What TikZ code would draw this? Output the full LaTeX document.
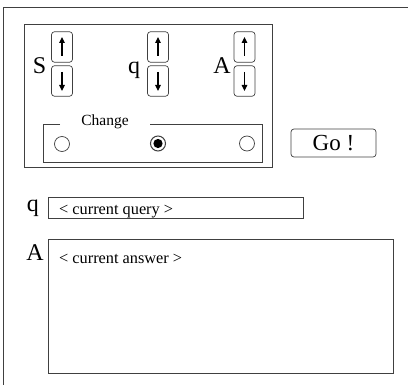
\documentclass[tikz,border=0pt]{standalone}
\usepackage{fontspec}
\setmainfont{Liberation Serif}
\usetikzlibrary{arrows.meta,calc}
\begin{document}
\begin{tikzpicture}[x=1pt,y=-1pt,
  frameline/.style={draw=black!75,line width=0.7pt},
  spinbtn/.style={frameline,rounded corners=3pt,minimum width=21pt,minimum height=30.5pt,inner sep=0pt},
  spinarrow/.style={line width=1.1pt,-{Triangle[length=6pt,width=5.5pt]}},
  biglabel/.style={font=\fontsize{24}{24}\selectfont,inner sep=0pt},
  radio/.style={circle,frameline,minimum size=15pt,inner sep=0pt},
  txtbox/.style={frameline,inner sep=0pt},
  smalltext/.style={font=\fontsize{16.3}{16.3}\selectfont,inner sep=0pt}]
\useasboundingbox (0,0) rectangle (415,385);
% outer frame (top and left edges only)
\coordinate (fbl) at (3,385);
\coordinate (ftl) at (3,7);
\coordinate (ftr) at (408,7);
\draw[frameline] (fbl) -- (ftl) -- (ftr);
% control panel
\node[txtbox,minimum width=248pt,minimum height=143pt] (panel) at (148,95.5) {};
% spinners
\node[spinbtn] (sup) at (62,47) {};
\node[spinbtn] (sdn) at (62,81) {};
\node[spinbtn] (qup) at (158,47) {};
\node[spinbtn] (qdn) at (158,81) {};
\node[spinbtn] (aup) at (244.5,47) {};
\node[spinbtn] (adn) at (244.5,81) {};
\foreach \b in {sup,qup,aup}{
  \draw[spinarrow] ($(\b.center)+(0,9)$) -- ($(\b.center)+(0,-10)$);}
\foreach \b in {sdn,qdn,adn}{
  \draw[spinarrow] ($(\b.center)+(0,-9)$) -- ($(\b.center)+(0,10)$);}
\node[biglabel,anchor=base] (slab) at (39.5,74) {S};
\node[biglabel,anchor=base] (qlab) at (134,74) {q};
\node[biglabel,anchor=base] (alab) at (222,74) {A};
% Change group
\coordinate (g1) at (60,124);
\coordinate (g2) at (43,124);
\coordinate (g3) at (43,162);
\coordinate (g4) at (262,162);
\coordinate (g5) at (262,124);
\coordinate (g6) at (150,124);
\draw[frameline] (g1) -- (g2) -- (g3) -- (g4) -- (g5) -- (g6);
\node[font=\fontsize{15.5}{15.5}\selectfont,inner sep=0pt,anchor=base] (chg) at (105,126) {Change};
\node[radio] (r1) at (62,144) {};
\node[radio,line width=1pt] (r2) at (158,143.5) {};
\fill (r2.center) circle (4.6pt);
\node[radio] (r3) at (247,143.5) {};
% Go button
\node[frameline,rounded corners=3pt,minimum width=85pt,minimum height=28pt,inner sep=0pt,
  font=\fontsize{23}{23}\selectfont] (go) at (333.5,143) {Go !};
% query
\node[biglabel,anchor=base] (qlab2) at (33,211) {q};
\node[txtbox,minimum width=255pt,minimum height=21pt] (qbox) at (175.5,207.5) {};
\node[smalltext,anchor=base west] (qtxt) at (59,214) {< current query >};
% answer
\node[biglabel,anchor=base] (alab2) at (35,260) {A};
\node[txtbox,minimum width=345pt,minimum height=134pt] (abox) at (220.5,306) {};
\node[smalltext,anchor=base west] (atxt) at (59,263) {< current answer >};
\end{tikzpicture}
\end{document}
